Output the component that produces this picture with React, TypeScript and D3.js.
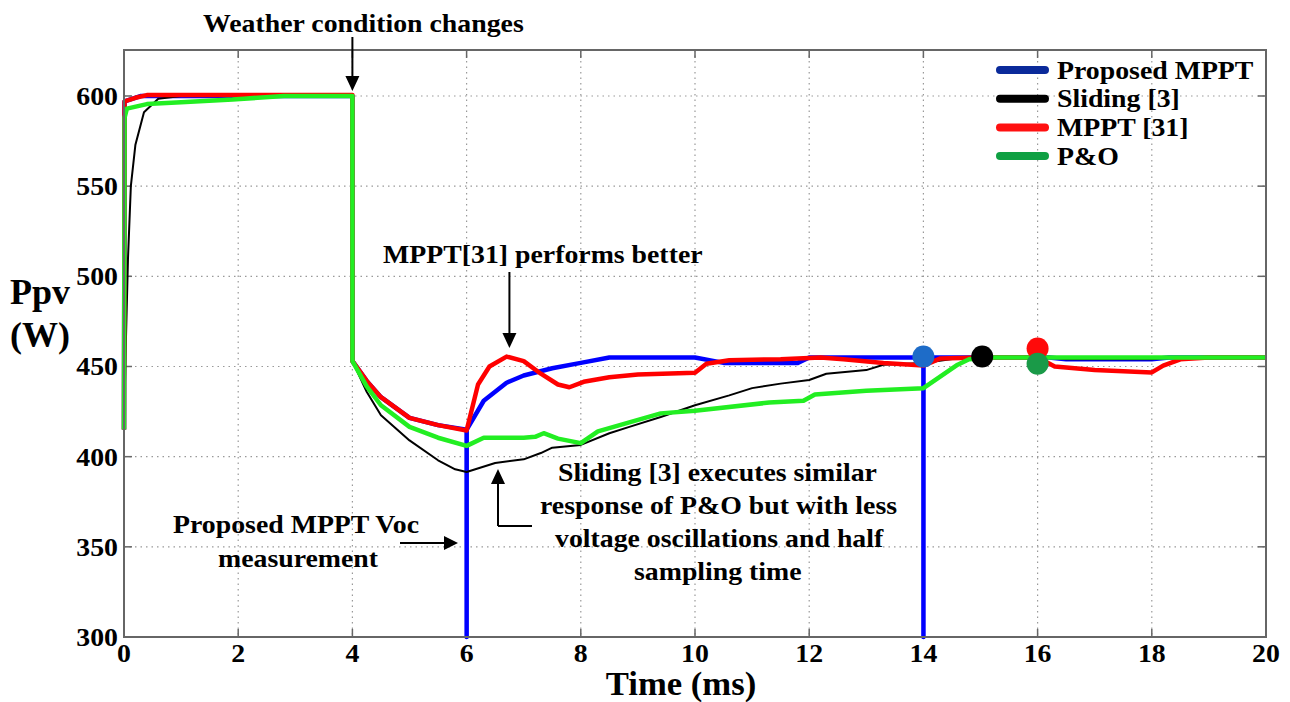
import React from 'react';
import * as d3 from 'd3';

type Pt = [number, number];

const xTicks = [0, 2, 4, 6, 8, 10, 12, 14, 16, 18, 20];
const yTicks = [300, 350, 400, 450, 500, 550, 600];

const proposedMPPT: Pt[] = [
  [0, 415], [0.01, 597], [0.3, 600], [4, 600], [4.001, 453], [4.25, 442], [4.5, 433], [5, 421.5], [5.5, 417.5],
  [6, 415], [6.001, 300], [6.002, 415], [6.3, 431], [6.7, 441], [7, 445], [7.5, 449], [8, 452], [8.5, 455],
  [10, 455], [10.5, 452], [11.8, 452], [12, 455], [14, 455], [14.001, 300], [14.002, 455], [16.2, 455],
  [16.5, 454], [18, 454], [18.3, 455], [20, 455],
];

const sliding3: Pt[] = [
  [0, 416], [0.03, 460], [0.07, 510], [0.12, 550], [0.2, 573], [0.35, 591], [0.6, 598.5], [1, 600], [4, 600],
  [4.001, 453], [4.25, 436], [4.5, 423], [5, 409], [5.5, 398], [5.8, 393], [6, 391.5], [6.5, 396.5], [7, 398.5],
  [7.3, 402], [7.5, 405], [8, 406.5], [8.5, 413], [8.85, 416.5], [9.4, 422], [10, 428.5], [10.6, 434], [11, 438],
  [11.5, 440.5], [12, 442.5], [12.3, 446], [13, 448], [13.3, 451], [14, 452], [14.6, 454.5], [15, 455],
  [16.2, 455], [16.5, 454], [18, 454], [18.3, 455], [20, 455],
];

const mppt31: Pt[] = [
  [0, 415], [0.01, 597], [0.2, 599], [0.4, 600.5], [4, 600.5], [4.001, 453], [4.25, 442], [4.5, 433], [5, 421.5],
  [5.5, 417.5], [6, 414.5], [6.2, 440], [6.4, 450], [6.7, 455.5], [7, 453], [7.3, 446], [7.6, 440], [7.8, 438.5],
  [8.05, 441.5], [8.5, 444], [9, 445.5], [10, 446.5], [10.2, 451.5], [10.6, 453.5], [11.5, 454], [12.2, 455],
  [12.6, 454], [13.3, 452], [14, 450.5], [14.3, 454.5], [15, 455], [16, 455], [16.3, 450], [17, 448],
  [18, 446.7], [18.2, 450.5], [18.5, 454], [19, 455], [20, 455],
];

const pAndO: Pt[] = [
  [0, 415], [0.01, 588], [0.05, 593], [0.4, 595.5], [1, 596.5], [1.9, 598], [2.1, 598.5], [2.8, 600], [4, 600],
  [4.001, 453], [4.25, 439], [4.5, 428.5], [5, 416.5], [5.5, 410.5], [6, 406], [6.3, 410.5], [7, 410.5],
  [7.2, 411], [7.35, 413], [7.6, 410], [8, 407.5], [8.3, 414], [8.85, 419], [9.4, 424], [10, 425.5],
  [11.3, 430], [11.9, 431], [12.1, 434.5], [13, 436.5], [14, 438], [14.6, 451], [14.8, 454], [15.2, 455],
  [20, 455],
];

const seriesNames = ['Proposed MPPT', 'Sliding [3]', 'MPPT [31]', 'P&O'];
const lineColors = ['#0000ff', '#000000', '#ff0000', '#22ee22'];
const legendColors = ['#0a2a9a', '#000000', '#ff1010', '#0fa043'];

const markerT = [14, 15.03, 16, 16];
const markerP = [455.5, 455.5, 460, 451.5];
const markerColors = ['#1e6cc8', '#000000', '#ff0a0a', '#1a9a48'];

const FONT = '"Liberation Serif", "Times New Roman", serif';

function T(props: { x: number; y: number; size?: number; sx?: number; anchor?: string; children: React.ReactNode }) {
  const { x, y, size = 26, sx = 1.07, anchor = 'start', children } = props;
  return (
    <text
      transform={`translate(${x},${y}) scale(${sx},1)`}
      fontFamily={FONT}
      fontWeight="bold"
      fontSize={size}
      textAnchor={anchor}
      fill="#000"
    >
      {children}
    </text>
  );
}

export default function App() {
  const W = 1290;
  const H = 702;
  const left = 124, right = 1266, top = 50, bottom = 637;
  const x = d3.scaleLinear().domain([0, 20]).range([left, right]);
  const y = d3.scaleLinear().domain([300, 625.5]).range([bottom, top]);
  const line = d3.line<Pt>().x((d) => x(d[0])).y((d) => y(d[1]));

  const data = [proposedMPPT, sliding3, mppt31, pAndO];
  const widths = [4.5, 2, 4.5, 4.5];
  const drawOrder = [0, 1, 2, 3];

  const axisColor = '#666';
  const gridColor = '#999';

  const ax = x(4);
  const ax31 = x(6.75);

  return (
    <svg width={W} height={H} style={{ position: 'absolute', left: 0, top: 0, background: '#fff' }}>
      <rect x={0} y={0} width={W} height={H} fill="#fff" />
      {/* grid */}
      {xTicks.filter((t) => t > 0 && t < 20).map((t) => (
        <line key={'gx' + t} x1={x(t)} x2={x(t)} y1={top} y2={bottom} stroke={gridColor} strokeWidth={1.2} strokeDasharray="1.5,4" />
      ))}
      {yTicks.filter((t) => t > 300).map((t) => (
        <line key={'gy' + t} x1={left} x2={right} y1={y(t)} y2={y(t)} stroke={gridColor} strokeWidth={1.2} strokeDasharray="1.5,4" />
      ))}
      {/* tick marks */}
      {xTicks.map((t) => (
        <g key={'tx' + t}>
          <line x1={x(t)} x2={x(t)} y1={bottom} y2={bottom - 8} stroke={axisColor} strokeWidth={1.5} />
          <line x1={x(t)} x2={x(t)} y1={top} y2={top + 8} stroke={axisColor} strokeWidth={1.5} />
        </g>
      ))}
      {yTicks.map((t) => (
        <g key={'ty' + t}>
          <line x1={left} x2={left + 8} y1={y(t)} y2={y(t)} stroke={axisColor} strokeWidth={1.5} />
          <line x1={right} x2={right - 8} y1={y(t)} y2={y(t)} stroke={axisColor} strokeWidth={1.5} />
        </g>
      ))}
      {/* series */}
      {drawOrder.map((i) => (
        <path key={'s' + i} d={line(data[i]) || ''} fill="none" stroke={lineColors[i]} strokeWidth={widths[i]} strokeLinejoin="round" />
      ))}
      {/* frame */}
      <rect x={left} y={top} width={right - left} height={bottom - top} fill="none" stroke={axisColor} strokeWidth={2} />
      {/* markers */}
      {markerT.map((t, i) => (
        <circle key={'m' + i} cx={x(t)} cy={y(markerP[i])} r={11} fill={markerColors[i]} />
      ))}
      {/* tick labels */}
      {xTicks.map((t) => (
        <T key={'lx' + t} x={x(t)} y={662} anchor="middle">{t}</T>
      ))}
      {yTicks.map((t) => (
        <T key={'ly' + t} x={118} y={y(t) + 9} anchor="end">{t}</T>
      ))}
      {/* axis titles */}
      <T x={681} y={695} size={33} sx={1.05} anchor="middle">Time (ms)</T>
      <T x={10} y={304} size={36} sx={1}>Ppv</T>
      <T x={10} y={347} size={36} sx={1}>(W)</T>

      {/* legend */}
      {seriesNames.map((n, i) => {
        const ly = 70 + i * 28.7;
        return (
          <g key={'lg' + i}>
            <line x1={1000} x2={1045} y1={ly} y2={ly} stroke={legendColors[i]} strokeWidth={8} strokeLinecap="round" />
            <T x={1057} y={ly + 8.5}>{n}</T>
          </g>
        );
      })}

      {/* annotations */}
      <T x={203} y={32}>Weather condition changes</T>
      <line x1={ax} x2={ax} y1={37} y2={80} stroke="#000" strokeWidth={2} />
      <path d={`M${ax - 7},${76} L${ax + 7},${76} L${ax},${91} Z`} fill="#000" />

      <T x={383} y={263}>MPPT[31] performs better</T>
      <line x1={ax31} x2={ax31} y1={272} y2={337} stroke="#000" strokeWidth={2} />
      <path d={`M${ax31 - 7},${333} L${ax31 + 7},${333} L${ax31},${348} Z`} fill="#000" />

      <T x={173} y={533}>Proposed MPPT Voc</T>
      <T x={218} y={567}>measurement</T>
      <line x1={400} x2={448} y1={543} y2={543} stroke="#000" strokeWidth={2} />
      <path d={`M${444},${536} L${444},${550} L${458},${543} Z`} fill="#000" />

      <line x1={532} x2={498} y1={526} y2={526} stroke="#000" strokeWidth={2} />
      <line x1={498} x2={498} y1={526} y2={480} stroke="#000" strokeWidth={2} />
      <path d={`M${491},${484} L${505},${484} L${498},${469} Z`} fill="#000" />

      <T x={558} y={481}>Sliding [3] executes similar</T>
      <T x={540} y={514}>response of P&amp;O but with less</T>
      <T x={555} y={547}>voltage oscillations and half</T>
      <T x={634} y={580}>sampling time</T>
    </svg>
  );
}
